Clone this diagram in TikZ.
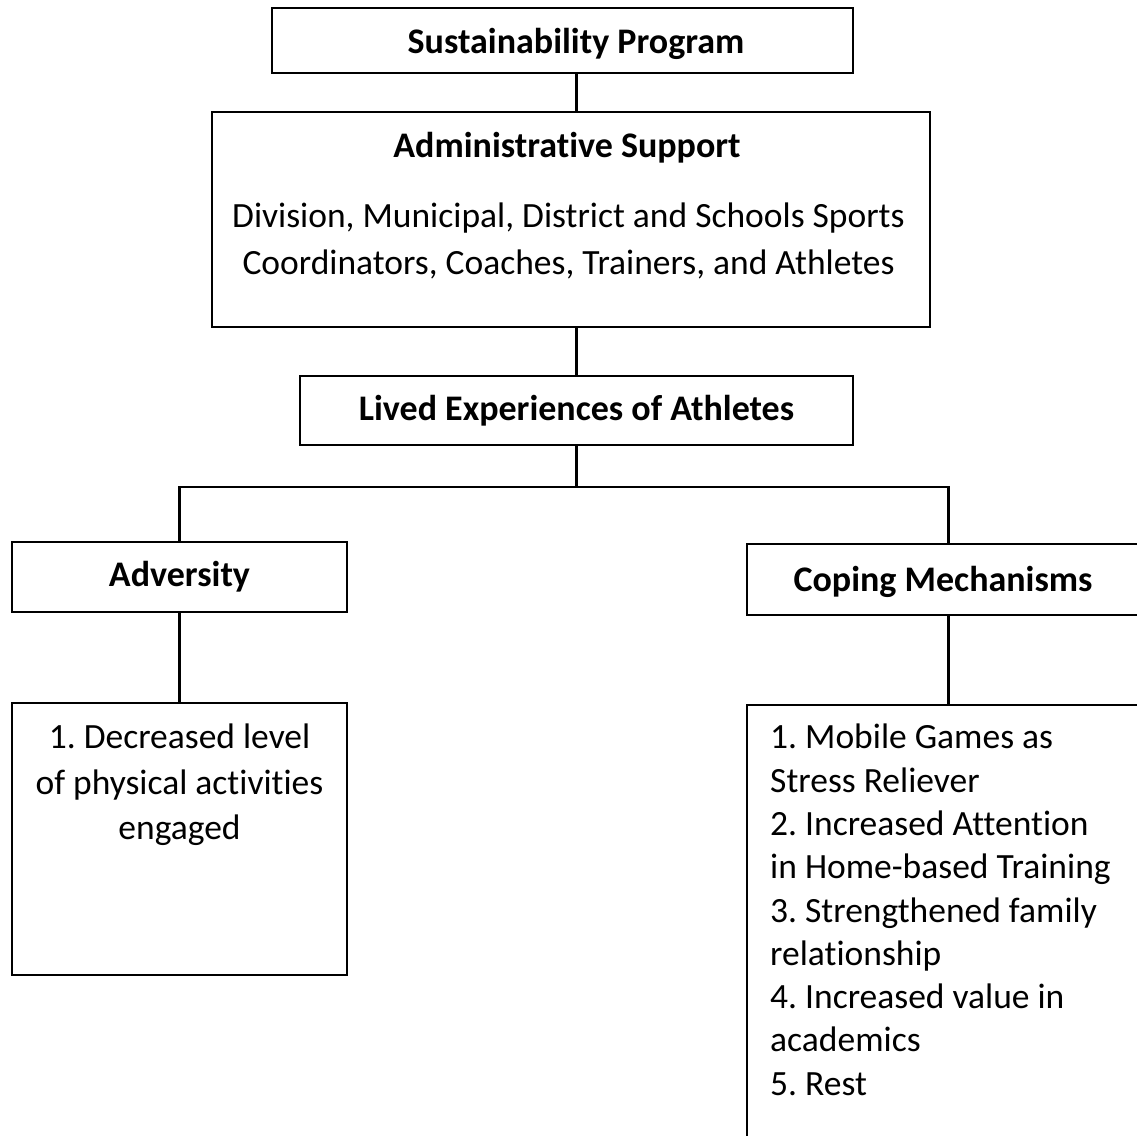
\documentclass[tikz,border=0pt]{standalone}
\usepackage{fontspec}
\setmainfont{Carlito}[Ligatures=NoCommon]
\usetikzlibrary{positioning}
\frenchspacing

\begin{document}
\begin{tikzpicture}[x=1pt, y=1pt,
    box/.style={draw, line width=1.6pt, inner sep=0pt, minimum width=#1},
    head/.style={font=\fontsize{36}{40}\selectfont\bfseries},
    body/.style={font=\fontsize{35.5}{#1}\selectfont, inner sep=0pt},
    link/.style={line width=2.6pt}]
    \useasboundingbox (0,0) rectangle (1137,-1135);
    \clip (0,0) rectangle (1137,-1135);
    % boxes
    \node[box=581pt, minimum height=65pt] (sus) at (562.5,-40.5) {};
    \node[box=718pt, minimum height=215pt] (admin) at (571,-219.5) {};
    \node[box=553pt, minimum height=69pt, head] (lived) at (576.5,-410.5) {Lived Experiences of Athletes};
    \node[box=335pt, minimum height=70pt, head] (adv) at (179.5,-577) {Adversity};
    \node[box=403pt, minimum height=71pt] (cope) at (948.5,-579.5) {};
    \node[box=335pt, minimum height=272pt] (advlist) at (179.5,-839) {};
    \node[box=403pt, minimum height=445pt] (copelist) at (948.5,-927.5) {};
    % texts
    \node[head, inner sep=0pt] (sustitle) at (576,-43.5) {Sustainability Program};
    \node[head, inner sep=0pt] (admintitle) at (567,-148) {Administrative Support};
    \node[body=47pt, align=center] (admintext) at (568.5,-240.5)
        {Division, Municipal, District and Schools Sports\\Coordinators, Coaches, Trainers, and Athletes};
    \node[head, inner sep=0pt] (copetitle) at (943,-582) {Coping Mechanisms};
    \node[body=45.5pt, align=center, anchor=north] (advtext) at (179.5,-724)
        {1. Decreased level\\of physical activities\\engaged};
    \node[body=43.3pt, align=left, anchor=north west] (copetext) at (770,-724)
        {1. Mobile Games as\\Stress Reliever\\2. Increased Attention\\in Home-based Training\\3. Strengthened family\\relationship\\4. Increased value in\\academics\\5. Rest};
    % connectors
    \coordinate (split) at (576.5,-487);
    \draw[link] (lived.north |- sus.south) -- (lived.north |- admin.north);
    \draw[link] (lived.north |- admin.south) -- (lived.north);
    \draw[link] (lived.south) -- (split);
    \draw[link] (adv.north) |- (split) -| (cope.north);
    \draw[link] (adv.south) -- (advlist.north);
    \draw[link] (cope.south) -- (copelist.north);
\end{tikzpicture}
\end{document}
